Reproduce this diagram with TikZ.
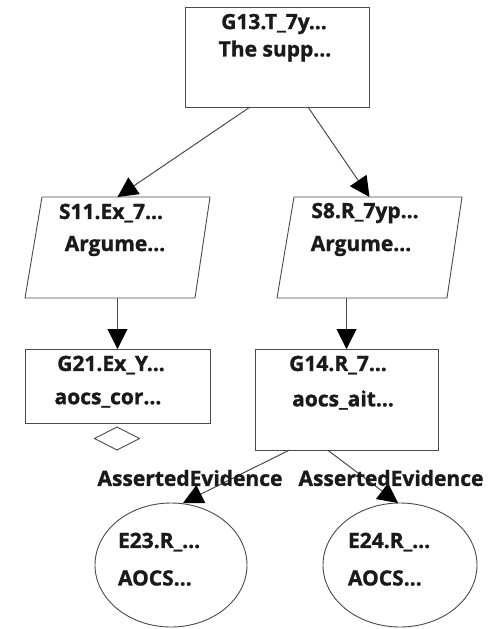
\documentclass[tikz,border=0pt]{standalone}
\usepackage{fontspec}
\setmainfont{Open Sans}[BoldFeatures={FakeBold=1.2}]
\usetikzlibrary{shapes.geometric,arrows.meta,calc}
\definecolor{edgegray}{HTML}{4A4A4A}
\definecolor{inkdark}{HTML}{1A1A1A}
\begin{document}
\begin{tikzpicture}[x=1pt,y=-1pt,
  every node/.style={inner sep=0pt,outer sep=0pt},
  shapeline/.style={draw=edgegray,line width=0.9pt,fill=white},
  goalbox/.style={shapeline,rectangle},
  stratframe/.style={rectangle,minimum width=185pt,minimum height=101pt},
  evid/.style={shapeline,ellipse},
  undev/.style={shapeline,diamond,minimum width=45pt,minimum height=23pt},
  txt/.style={text=inkdark,font=\fontsize{21}{25}\selectfont\bfseries},
  edgelbl/.style={text=inkdark,font=\fontsize{21}{25}\selectfont\bfseries},
  link/.style={draw=edgegray,line width=1pt,-{Triangle[length=20pt,width=20pt,color=black,fill=black]}},
]
\useasboundingbox[fill=white] (0,0) rectangle (500,629);

% goal boxes
\node[goalbox,minimum width=184pt,minimum height=100pt] (G13) at (277,57) {};
\node[goalbox,minimum width=185pt,minimum height=74pt] (G21) at (117.5,386) {};
\node[goalbox,minimum width=183pt,minimum height=101pt] (G14) at (346.5,399.5) {};
\node[undev] (G21u) at (117,438.5) {};

% strategies: parallelograms drawn on their frame nodes
\node[stratframe] (S11) at (117.5,247.5) {};
\node[stratframe] (S8) at (369.5,247.5) {};
\foreach \s in {S11,S8}{
  \draw[shapeline] ([xshift=17pt]\s.north west) -- (\s.north east)
    -- ([xshift=-15pt]\s.south east) -- (\s.south west) -- cycle;
}

% evidence
\node[evid,minimum width=152pt,minimum height=124pt] (E23) at (171,565) {};
\node[evid,minimum width=154pt,minimum height=124pt] (E24) at (400,565) {};

% node texts
\node[txt] (G13a) at (274,24) {G13.T\_7y...};
\node[txt] (G13b) at (275,51) {The supp...};
\node[txt] (S11a) at (111,213) {S11.Ex\_7...};
\node[txt] (S11b) at (115,246) {Argume...};
\node[txt] (S8a) at (365,213) {S8.R\_7yp...};
\node[txt] (S8b) at (361,246) {Argume...};
\node[txt] (G21a) at (111,365) {G21.Ex\_Y...};
\node[txt] (G21b) at (108,400) {aocs\_cor...};
\node[txt] (G14a) at (338,365) {G14.R\_7...};
\node[txt] (G14b) at (343,400) {aocs\_ait...};
\node[txt,anchor=west] (E23a) at (118,542) {E23.R\_...};
\node[txt,anchor=west] (E23b) at (118,578) {AOCS...};
\node[txt,anchor=west] (E24a) at (348,542) {E24.R\_...};
\node[txt,anchor=west] (E24b) at (348,578) {AOCS...};

% connectors
\draw[link] ([xshift=-27pt]G13.south) -- ([xshift=0pt]S11.north);
\draw[link] ([xshift=31pt]G13.south) -- ([xshift=0pt]S8.north);
\draw[link] (S11.south -| G21.north) -- (G21.north);
\draw[link] (S8.south -| G14.north) -- (G14.north);
\draw[link] ([xshift=-57pt]G14.south) -- ([xshift=12pt]E23.north);
\draw[link] ([xshift=-19pt]G14.south) -- ([xshift=-2pt]E24.north);

% relation labels
\node[edgelbl] (L1) at (190,478) {AssertedEvidence};
\node[edgelbl] (L2) at (391,478) {AssertedEvidence};
\end{tikzpicture}
\end{document}
